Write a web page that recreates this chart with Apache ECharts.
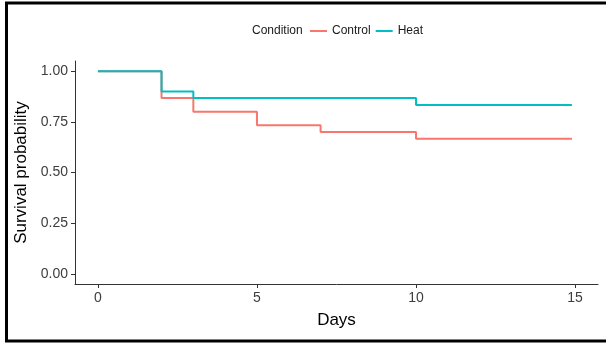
<!DOCTYPE html>
<html>
<head>
<meta charset="utf-8">
<script src="https://cdn.jsdelivr.net/npm/echarts@6/dist/echarts.min.js"></script>
<style>
html,body{margin:0;padding:0;background:#fff;}
#chart{width:606px;height:343px;}
</style>
</head>
<body>
<div id="chart"></div>
<script>
// Data
const controlDays = [0, 2, 3, 5, 7, 10, 14.9];
const controlSurv = [1.0, 0.867, 0.8, 0.733, 0.7, 0.667, 0.667];
const heatDays = [0, 2, 3, 10, 14.9];
const heatSurv = [1.0, 0.9, 0.867, 0.833, 0.833];
const xTicks = [0, 5, 10, 15];
const yTicks = [0, 0.25, 0.5, 0.75, 1.0];
const legendTitle = 'Condition';
const seriesNames = ['Control', 'Heat'];

const FONT = '"Liberation Sans", Arial, sans-serif';
const zip = (a, b) => a.map((v, i) => [v, b[i]]);

const chart = echarts.init(document.getElementById('chart'), null, {renderer: 'canvas'});
chart.setOption({
  backgroundColor: '#ffffff',
  animation: false,
  textStyle: {fontFamily: FONT},
  grid: {left: 75, right: 8, top: 61, bottom: 59, containLabel: false},
  graphic: [
    {type: 'rect', shape: {x: 6.5, y: 3, width: 640, height: 338}, style: {fill: 'none', stroke: '#000', lineWidth: 3}, z: 100},
    {type: 'text', left: 252, top: 25, style: {text: legendTitle, fontSize: 12, fontFamily: FONT, fill: '#1a1a1a'}}
  ],
  legend: {
    data: seriesNames,
    left: 310, top: 25,
    icon: 'rect', itemWidth: 17, itemHeight: 2, itemGap: 5,
    textStyle: {fontSize: 12, color: '#1a1a1a', fontFamily: FONT},
    padding: 0
  },
  xAxis: {
    type: 'value', min: -0.72, max: 15.72,
    name: 'Days', nameLocation: 'middle', nameGap: 28,
    nameTextStyle: {fontSize: 17, color: '#000', fontFamily: FONT},
    axisLine: {show: true, onZero: false, lineStyle: {color: '#333', width: 1}},
    axisTick: {show: true, length: 4, lineStyle: {color: '#333'}, customValues: xTicks},
    axisLabel: {fontSize: 14, color: '#3d3d3d', margin: 7, customValues: xTicks, fontFamily: FONT},
    splitLine: {show: false}
  },
  yAxis: {
    type: 'value', min: -0.05, max: 1.05,
    name: 'Survival probability', nameLocation: 'middle', nameGap: 42,
    nameTextStyle: {fontSize: 17, color: '#000', fontFamily: FONT},
    axisLine: {show: true, onZero: false, lineStyle: {color: '#333', width: 1}},
    axisTick: {show: true, length: 4, lineStyle: {color: '#333'}, customValues: yTicks},
    axisLabel: {fontSize: 14, color: '#3d3d3d', margin: 7, customValues: yTicks, fontFamily: FONT,
      formatter: v => v.toFixed(2)},
    splitLine: {show: false}
  },
  series: [
    {name: seriesNames[0], type: 'line', step: 'end', data: zip(controlDays, controlSurv),
     showSymbol: false, symbol: 'none', color: '#F8766D', lineStyle: {width: 2, color: '#F8766D'}},
    {name: seriesNames[1], type: 'line', step: 'end', data: zip(heatDays, heatSurv),
     showSymbol: false, symbol: 'none', color: '#00BFC4', lineStyle: {width: 2, color: '#00BFC4'}}
  ]
});
</script>
</body>
</html>
